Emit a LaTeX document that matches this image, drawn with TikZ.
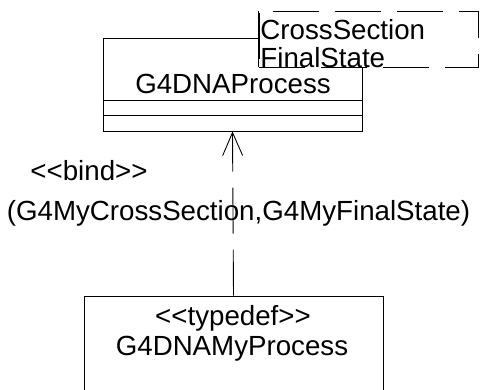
\documentclass[tikz,border=0pt]{standalone}
\usepackage{fontspec}
\setmainfont{Liberation Sans}
\usetikzlibrary{arrows.meta,calc}
\newcommand{\lguil}{<\kern0pt<}
\newcommand{\rguil}{>\kern0pt>}
\begin{document}
\begin{tikzpicture}
		[x=1bp,y=-1bp,line width=0.9bp,
		umlbox/.style={draw,rectangle,inner sep=0pt},
		umltext/.style={inner sep=0pt,anchor=base,font=\fontsize{27.8}{30}\selectfont},
		templbox/.style={draw,rectangle,inner sep=0pt,fill=white,dash pattern=on 46bp off 16bp}]
		\clip (0,0) rectangle (481,389);
		% class with its compartments
		\node[umlbox,name=proc,minimum width=259bp,minimum height=93bp] at (232.5,84.5) {};
		\draw ($(proc.south west)+(0,-31)$) -- ($(proc.south east)+(0,-31)$);
		\draw ($(proc.south west)+(0,-16)$) -- ($(proc.south east)+(0,-16)$);
		\node[umltext,name=procname] at (233,93) {G4DNAProcess};
		% template parameters
		\node[templbox,name=templ,minimum width=219bp,minimum height=56bp] at (368.5,39) {};
		\draw (templ.north west) -- (templ.south west);
		\node[umltext,anchor=base west,name=tcross] at (260,39.5) {CrossSection};
		\node[umltext,anchor=base west,name=tfinal] at (260,67) {FinalState};
		% bound class
		\node[umlbox,name=tdef,minimum width=299bp,minimum height=124bp] at (233.5,358) {};
		\node[umltext,name=tdefkind] at (233,325) {\lguil typedef\rguil};
		\node[umltext,name=tdefname] at (232,355) {G4DNAMyProcess};
		% binding
		\draw[dash pattern=on 46bp off 16bp,-{Straight Barb[length=23bp,width=20bp]}]
			(tdef.north) -- (proc.south);
		\node[umltext,name=bind] at (89,180) {\lguil bind\rguil};
		\node[umltext,name=bindargs] at (238.5,220) {(G4MyCrossSection,G4MyFinalState)};
\end{tikzpicture}
\end{document}
